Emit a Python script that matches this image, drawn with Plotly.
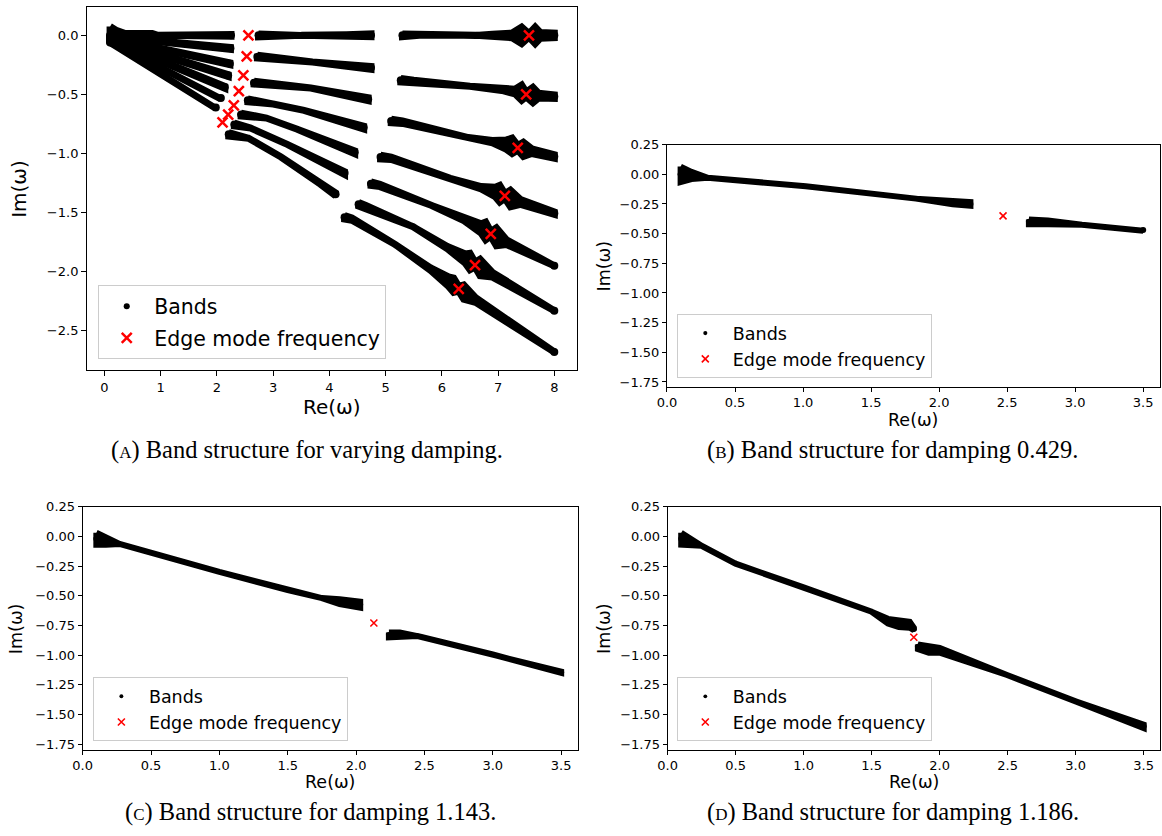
import plotly.graph_objects as go

W, H = 1162, 836

# ---------------- Panel A : band structure for varying damping ----------------
# each band: centre-line x, centre-line y, extra half thickness (bulges)
A_FAN_X = [[0.10, 0.22, 0.37, 0.85, 0.95, 1.65, 2.25],
           [0.10, 2.24], [0.10, 2.23], [0.10, 2.20], [0.10, 2.14], [0.10, 2.07], [0.10, 1.98]]
A_FAN_Y = [[0.0, 0.0, 0.0, 0.0, 0.0, 0.0, 0.0],
           [-0.01, -0.11], [-0.02, -0.24], [-0.03, -0.34], [-0.04, -0.44], [-0.05, -0.53], [-0.06, -0.61]]
A_FAN_HW = [[0.075, 0.04, 0.015, 0.015, 0.0, 0.0, 0.008],
            [0.0, 0.008], [0.0, 0.008], [0.0, 0.008], [0.0, 0.008], [0.0, 0.008], [0.0, 0.008]]

A_MID_X = [[2.74, 3.50, 4.30, 4.74],
           [2.72, 3.70, 4.74],
           [2.66, 3.67, 4.69],
           [2.55, 3.00, 3.55, 4.61],
           [2.43, 2.88, 3.43, 4.45],
           [2.31, 2.60, 3.26, 4.27],
           [2.21, 2.56, 3.14, 3.84, 4.11]]
A_MID_Y = [[0.0, 0.0, 0.0, 0.0],
           [-0.18, -0.225, -0.275],
           [-0.40, -0.446, -0.54],
           [-0.55, -0.58, -0.635, -0.78],
           [-0.67, -0.70, -0.795, -0.99],
           [-0.755, -0.785, -0.925, -1.165],
           [-0.838, -0.87, -1.03, -1.26, -1.345]]
A_MID_HW = [[0.012, 0.0, 0.006, 0.012],
            [0.012, 0.0, 0.012],
            [0.012, 0.0, 0.012],
            [0.012, 0.0, 0.0, 0.012],
            [0.012, 0.0, 0.0, 0.012],
            [0.012, 0.0, 0.0, 0.012],
            [0.015, 0.0, 0.0, 0.0, 0.012]]

A_HIGH_X = [[5.30, 5.45, 5.60, 6.60, 6.90, 7.25, 7.42, 7.55, 7.66, 7.75, 8.00],
            [5.27, 5.50, 6.50, 7.10, 7.30, 7.42, 7.50, 7.62, 7.72, 8.00],
            [5.10, 5.30, 6.47, 6.90, 7.15, 7.25, 7.35, 7.45, 7.60, 8.00],
            [4.91, 5.10, 6.15, 6.70, 6.95, 7.03, 7.12, 7.22, 7.40, 8.00],
            [4.74, 4.90, 5.82, 6.40, 6.70, 6.78, 6.87, 6.97, 7.15, 8.00],
            [4.52, 4.65, 5.49, 6.10, 6.42, 6.50, 6.59, 6.68, 6.90, 8.00],
            [4.27, 4.40, 5.17, 5.80, 6.12, 6.21, 6.30, 6.39, 6.60, 8.00]]
A_HIGH_Y = [[0.0, 0.0, 0.0, 0.0, 0.0, 0.0, 0.0, 0.0, 0.0, 0.0, 0.0],
            [-0.38, -0.39, -0.43, -0.46, -0.475, -0.485, -0.50, -0.505, -0.51, -0.518],
            [-0.725, -0.735, -0.865, -0.90, -0.925, -0.935, -0.952, -0.965, -0.98, -1.025],
            [-1.03, -1.04, -1.21, -1.29, -1.325, -1.34, -1.36, -1.38, -1.41, -1.505],
            [-1.255, -1.27, -1.44, -1.56, -1.635, -1.655, -1.68, -1.705, -1.75, -1.95],
            [-1.43, -1.45, -1.62, -1.797, -1.89, -1.914, -1.94, -1.965, -2.026, -2.33],
            [-1.54, -1.555, -1.77, -1.979, -2.085, -2.115, -2.145, -2.173, -2.24, -2.68]]
A_HIGH_HW = [[0.012, 0.01, 0.0, 0.0, 0.01, 0.02, 0.07, 0.015, 0.07, 0.025, 0.02],
             [0.015, 0.01, 0.0, 0.01, 0.02, 0.065, 0.02, 0.065, 0.02, 0.015],
             [0.015, 0.01, 0.0, 0.01, 0.04, 0.065, 0.02, 0.06, 0.02, 0.015],
             [0.015, 0.01, 0.0, 0.01, 0.04, 0.07, 0.02, 0.07, 0.02, 0.01],
             [0.015, 0.01, 0.0, 0.01, 0.04, 0.075, 0.02, 0.075, 0.02, 0.0],
             [0.015, 0.01, 0.0, 0.01, 0.04, 0.07, 0.02, 0.07, 0.02, 0.0],
             [0.015, 0.01, 0.0, 0.01, 0.04, 0.06, 0.02, 0.06, 0.02, 0.0]]

A_EDGE_X = [2.56, 2.53, 2.47, 2.39, 2.30, 2.20, 2.10,
            7.55, 7.50, 7.35, 7.12, 6.87, 6.59, 6.30]
A_EDGE_Y = [0.0, -0.177, -0.338, -0.472, -0.593, -0.67, -0.737,
            0.0, -0.50, -0.953, -1.358, -1.68, -1.944, -2.145]

# ---------------- Panel B : damping 0.429 ----------------
B_BAND_X = [[0.10, 0.18, 0.30, 1.02, 1.83, 2.10, 2.23], [2.66, 2.80, 3.05, 3.50]]
B_BAND_Y = [[0.0, -0.01, -0.03, -0.10, -0.205, -0.24, -0.25], [-0.40, -0.405, -0.425, -0.47]]
B_BAND_HW = [[0.065, 0.03, 0.0, 0.0, 0.0, 0.012, 0.015], [0.02, 0.015, 0.0, 0.005]]
B_EDGE_X = [2.47]
B_EDGE_Y = [-0.35]

# ---------------- Panel C : damping 1.143 ----------------
C_BAND_X = [[0.10, 0.17, 0.27, 1.00, 1.50, 1.75, 1.88, 2.03], [2.24, 2.32, 2.45, 3.00, 3.50]]
C_BAND_Y = [[-0.02, -0.04, -0.064, -0.30, -0.452, -0.52, -0.55, -0.575],
            [-0.83, -0.83, -0.84, -0.995, -1.145]]
C_BAND_HW = [[0.05, 0.03, 0.0, 0.0, 0.0, 0.0, 0.02, 0.025], [0.02, 0.02, 0.0, 0.0, 0.005]]
C_EDGE_X = [2.13]
C_EDGE_Y = [-0.73]

# ---------------- Panel D : damping 1.186 ----------------
D_BAND_X = [[0.10, 0.17, 0.25, 0.50, 1.00, 1.50, 1.62, 1.70, 1.78, 1.81],
            [1.84, 1.92, 2.00, 2.50, 3.00, 3.50]]
D_BAND_Y = [[-0.02, -0.05, -0.08, -0.23, -0.43, -0.635, -0.715, -0.738, -0.745, -0.78],
            [-0.93, -0.95, -0.96, -1.17, -1.39, -1.60]]
D_BAND_HW = [[0.05, 0.03, 0.0, 0.0, 0.0, 0.0, 0.02, 0.025, 0.025, 0.01],
             [0.02, 0.03, 0.02, 0.0, 0.0, 0.015]]
D_EDGE_X = [1.81]
D_EDGE_Y = [-0.85]

CAPTIONS = ["Band structure for varying damping.",
            "Band structure for damping 0.429.",
            "Band structure for damping 1.143.",
            "Band structure for damping 1.186."]
LETTERS = ["A", "B", "C", "D"]


def polygon(xs_list, ys_list, hw_list):
    px, py = [], []
    for xs, ys, hws in zip(xs_list, ys_list, hw_list):
        up = [y + h for y, h in zip(ys, hws)]
        lo = [y - h for y, h in zip(ys, hws)]
        px += list(xs) + list(xs)[::-1] + [xs[0], None]
        py += up + lo[::-1] + [up[0], None]
    return px, py


def centres(xs_list, ys_list, ms):
    cx, cy, cs = [], [], []
    for xs, ys in zip(xs_list, ys_list):
        n = len(xs)
        for i, (x, y) in enumerate(zip(xs, ys)):
            cx.append(x)
            cy.append(y)
            cs.append(ms + 3 if i in (0, n - 1) else ms)
    return cx, cy, cs


def fx(p):
    return p / W


def fy(p):
    return 1 - p / H


FONT = "DejaVu Sans"

panels = [
    dict(bx=A_FAN_X + A_MID_X + A_HIGH_X, by=A_FAN_Y + A_MID_Y + A_HIGH_Y, bh=A_FAN_HW + A_MID_HW + A_HIGH_HW,
         ex=A_EDGE_X, ey=A_EDGE_Y, lw=7, ms=5, es=10, ew=2.5, tl=5,
         px=(77.7, 571.7), py=(0.5, 367.7), xr=[-0.31, 8.40], yr=[-2.835, 0.236],
         dx=1, xf="d", dy=0.5, yf=".1f", leg=(89, 356.7), lfs=20.5, afs=20, gap=2,
         imx=9.0, rey=404.4, cap=(300, 448)),
    dict(bx=B_BAND_X, by=B_BAND_Y, bh=B_BAND_HW, ex=B_EDGE_X, ey=B_EDGE_Y, lw=6, ms=3, es=7, ew=1.6, tl=4,
         px=(662.7, 1159.5), py=(139.3, 384.3), xr=[0, 3.62], yr=[-1.79, 0.25],
         dx=0.5, xf=".1f", dy=0.25, yf=".2f", leg=(672.6, 375.7), lfs=17.5, afs=17.5, gap=0,
         imx=599.0, rey=417.5, cap=(890, 448)),
    dict(bx=C_BAND_X, by=C_BAND_Y, bh=C_BAND_HW, ex=C_EDGE_X, ey=C_EDGE_Y, lw=6, ms=3, es=7, ew=1.6, tl=4,
         px=(73.3, 572.5), py=(505.7, 751.7), xr=[0, 3.62], yr=[-1.797, 0.25],
         dx=0.5, xf=".1f", dy=0.25, yf=".2f", leg=(83.6, 743.3), lfs=17.5, afs=17.5, gap=0,
         imx=6.0, rey=784.7, cap=(303, 815)),
    dict(bx=D_BAND_X, by=D_BAND_Y, bh=D_BAND_HW, ex=D_EDGE_X, ey=D_EDGE_Y, lw=6, ms=3, es=7, ew=1.6, tl=4,
         px=(663.3, 1160.0), py=(505.7, 751.7), xr=[0, 3.62], yr=[-1.797, 0.25],
         dx=0.5, xf=".1f", dy=0.25, yf=".2f", leg=(672.6, 743.3), lfs=17.5, afs=17.5, gap=0,
         imx=599.0, rey=784.7, cap=(891, 815)),
]

fig = go.Figure()
annotations = []
layout = dict(width=W, height=H, margin=dict(l=0, r=0, t=0, b=0),
              paper_bgcolor="white", plot_bgcolor="white", showlegend=True,
              font=dict(family=FONT, color="black"))

for k, p in enumerate(panels):
    sfx = "" if k == 0 else str(k + 1)
    xa, ya = "x" + sfx, "y" + sfx
    legname = "legend" if k == 0 else "legend" + str(k + 1)

    polx, poly = polygon(p["bx"], p["by"], p["bh"])
    fig.add_trace(go.Scatter(x=polx, y=poly, mode="lines", fill="toself", fillcolor="black",
                             line=dict(color="black", width=p["lw"]), showlegend=False,
                             hoverinfo="skip", xaxis=xa, yaxis=ya))
    cx, cy, cs = centres(p["bx"], p["by"], p["ms"])
    fig.add_trace(go.Scatter(x=cx, y=cy, mode="markers", name="Bands",
                             marker=dict(color="black", size=cs, opacity=1, line=dict(width=0)),
                             legend=legname, legendgroup="b" + sfx, xaxis=xa, yaxis=ya))
    fig.add_trace(go.Scatter(x=p["ex"], y=p["ey"], mode="markers", name="Edge mode frequency",
                             marker=dict(symbol="x-thin", size=p["es"], color="red", opacity=1,
                                         line=dict(color="red", width=p["ew"])),
                             legend=legname, legendgroup="e" + sfx, xaxis=xa, yaxis=ya))

    axcommon = dict(showgrid=False, zeroline=False, showline=True, mirror=True, linecolor="black",
                    linewidth=1, ticks="outside", ticklen=p["tl"], tickwidth=1, tickcolor="black",
                    tickfont=dict(family=FONT, size=13, color="black"), fixedrange=True)
    layout["xaxis" + sfx] = dict(axcommon, domain=[fx(p["px"][0]), fx(p["px"][1])], range=p["xr"],
                                 dtick=p["dx"], tick0=0, tickformat=p["xf"], anchor=ya)
    layout["yaxis" + sfx] = dict(axcommon, domain=[fy(p["py"][1]), fy(p["py"][0])], range=p["yr"],
                                 dtick=p["dy"], tick0=0, tickformat=p["yf"], anchor=xa)
    layout[legname] = dict(x=fx(p["leg"][0]), y=fy(p["leg"][1]), xanchor="left", yanchor="bottom",
                           bgcolor="rgba(255,255,255,0.8)", bordercolor="#cccccc", borderwidth=1,
                           font=dict(family=FONT, size=p["lfs"], color="black"),
                           tracegroupgap=p["gap"], itemsizing="trace", itemwidth=45)

    xc = (p["px"][0] + p["px"][1]) / 2
    yc = (p["py"][0] + p["py"][1]) / 2
    annotations.append(dict(text="Im(ω)", x=fx(p["imx"]), y=fy(yc), xref="paper", yref="paper",
                            textangle=-90, showarrow=False, xanchor="center", yanchor="middle",
                            font=dict(family=FONT, size=p["afs"], color="black")))
    annotations.append(dict(text="Re(ω)", x=fx(xc), y=fy(p["rey"]), xref="paper", yref="paper",
                            showarrow=False, xanchor="center", yanchor="middle",
                            font=dict(family=FONT, size=p["afs"], color="black")))
    annotations.append(dict(
        text="(<span style='font-size:17px'>" + LETTERS[k] + "</span>) " + CAPTIONS[k],
        x=fx(p["cap"][0]), y=fy(p["cap"][1]), xref="paper", yref="paper", showarrow=False,
        xanchor="center", yanchor="middle",
        font=dict(family="Liberation Serif", size=24.5, color="black")))

layout["annotations"] = annotations
fig.update_layout(**layout)
fig.write_html("out.html")
